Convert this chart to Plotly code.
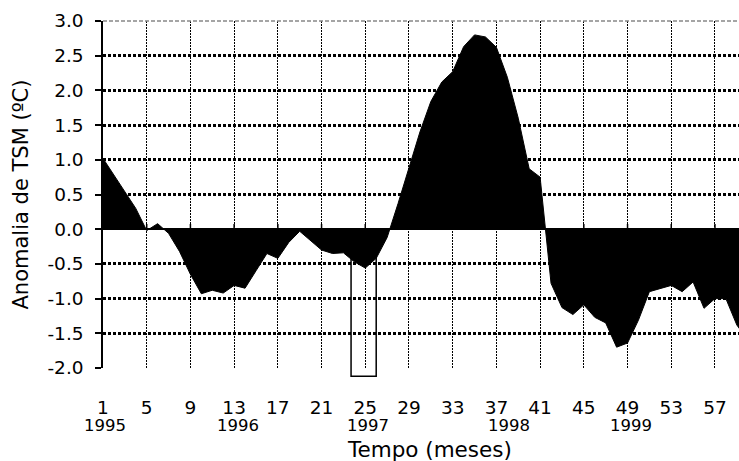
import plotly.graph_objects as go

# Monthly sea-surface temperature anomaly, Jan 1995 onward
months = list(range(1, 61))
anomaly = [
    1.02, 0.78, 0.55, 0.30, -0.02, 0.08, -0.06, -0.32, -0.65, -0.93,
    -0.88, -0.92, -0.81, -0.85, -0.60, -0.35, -0.42, -0.19, -0.03, -0.16,
    -0.30, -0.35, -0.34, -0.47, -0.56, -0.42, -0.12, 0.37, 0.87, 1.40,
    1.84, 2.12, 2.27, 2.63, 2.80, 2.77, 2.62, 2.19, 1.60, 0.87,
    0.75, -0.78, -1.13, -1.23, -1.09, -1.27, -1.35, -1.70, -1.64, -1.31,
    -0.90, -0.85, -0.81, -0.90, -0.76, -1.14, -1.00, -1.00, -1.38, -1.60,
]

x_ticks = list(range(1, 58, 4))
y_ticks = [-2.0, -1.5, -1.0, -0.5, 0.0, 0.5, 1.0, 1.5, 2.0, 2.5, 3.0]
year_months = [1, 13, 25, 37, 49]
year_labels = ["1995", "1996", "1997", "1998", "1999"]
year_shift = [2, 4, 3, 13, 3]

# highlighted window around month 25
box_months = (23.7, 26.0)
box_values = (-2.12, -0.3)

FONT = "DejaVu Sans"
Y_MIN, Y_MAX = -2.0, 3.0

fig = go.Figure()

fig.add_trace(go.Scatter(
    x=months, y=anomaly, mode="lines",
    fill="tozeroy", fillcolor="black",
    line=dict(color="black", width=1),
    hoverinfo="skip",
))

# short tick marks sitting on the zero line
tx, ty = [], []
for m in x_ticks:
    tx += [m, m, None]
    ty += [0, 0.075, None]
fig.add_trace(go.Scatter(x=tx, y=ty, mode="lines",
                         line=dict(color="black", width=1.5), hoverinfo="skip"))

def to_paper(v):
    return (v - Y_MIN) / (Y_MAX - Y_MIN)

fig.add_shape(type="rect", xref="x", yref="paper",
              x0=box_months[0], x1=box_months[1],
              y0=to_paper(box_values[0]), y1=to_paper(box_values[1]),
              line=dict(color="black", width=1.5), layer="above")

# plot-area top border
fig.add_shape(type="line", xref="paper", yref="paper", x0=0, x1=1, y0=1, y1=1,
              line=dict(color="#888888", width=1.5, dash="4px,2px"))

for m, lab, dx in zip(year_months, year_labels, year_shift):
    fig.add_annotation(x=m, xref="x", y=-0.167, yref="paper", text=lab,
                       showarrow=False, xanchor="center", yanchor="middle",
                       xshift=dx, font=dict(family=FONT, size=16.5, color="black"))

fig.add_annotation(x=0.5126, xref="paper", y=-0.236, yref="paper",
                   text="Tempo (meses)", showarrow=False,
                   xanchor="center", yanchor="middle",
                   font=dict(family=FONT, size=21.5, color="black"))
fig.add_annotation(x=-0.1305, xref="paper", y=0.5, yref="paper",
                   text="Anomalia de TSM (ºC)", showarrow=False, textangle=-90,
                   xanchor="center", yanchor="middle",
                   font=dict(family=FONT, size=21, color="black"))

fig.update_layout(
    width=739, height=461,
    margin=dict(l=103, r=0, t=21, b=93),
    plot_bgcolor="white", paper_bgcolor="white",
    showlegend=False,
    font=dict(family=FONT, color="black"),
    xaxis=dict(
        range=[1, 59.2],
        tickvals=x_ticks, ticktext=[str(v) for v in x_ticks],
        tickfont=dict(family=FONT, size=18.5, color="black"),
        showgrid=True, gridcolor="black", gridwidth=1, griddash="2px,1px",
        zeroline=False, showline=False, ticks="",
        ticklabelstandoff=26,
    ),
    yaxis=dict(
        range=[Y_MIN, Y_MAX],
        tickvals=y_ticks, ticktext=[f"{v:.1f}" for v in y_ticks],
        tickfont=dict(family=FONT, size=18.5, color="black"),
        showgrid=True, gridcolor="black", gridwidth=2.5, griddash="3px,2px",
        zeroline=True, zerolinecolor="black", zerolinewidth=1.5,
        showline=True, linecolor="black", linewidth=1.5,
        ticks="outside", ticklen=6, tickwidth=1.5, tickcolor="black",
        ticklabelstandoff=8,
    ),
)

fig.write_html("out.html")
